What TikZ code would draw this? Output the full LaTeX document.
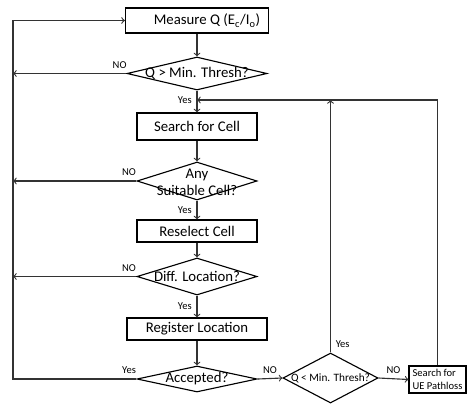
\documentclass[tikz,border=0pt]{standalone}
\usepackage{fontspec}
\setmainfont{Carlito}
\usetikzlibrary{shapes.geometric}
\begin{document}
\begin{tikzpicture}[
  x=0.025cm, y=-0.025cm,
  stepbox/.style={rectangle, draw, thick, inner sep=1pt, font=\fontsize{10.5}{12}\selectfont, align=center},
  decision/.style={diamond, draw, thick, inner sep=0pt},
  txt/.style={font=\fontsize{10.5}{12}\selectfont, align=center},
  lbl/.style={font=\fontsize{7.5}{8}\selectfont},
  arrow/.style={->, thick, draw=black!80}
]
\useasboundingbox (0,0) rectangle (468,403);

% main column
\node[stepbox, minimum width=3.575cm, minimum height=0.625cm] (measure) at (197,20.5) {\hspace{0.5cm}Measure Q (E\textsubscript{c}/I\textsubscript{o})};
\node[decision, minimum width=3.5cm, minimum height=0.825cm, label={[txt]center:Q > Min. Thresh?}] (qgt) at (197,73.5) {};
\node[stepbox, minimum width=3cm, minimum height=0.675cm] (search) at (197,126.5) {Search for Cell};
\node[decision, minimum width=3cm, minimum height=0.95cm, label={[txt, yshift=-1pt]center:Any\\Suitable Cell?}] (suit) at (197,181) {};
\node[stepbox, minimum width=3cm, minimum height=0.55cm] (reselect) at (197,231) {Reselect Cell};
\node[decision, minimum width=3cm, minimum height=0.925cm, label={[txt]center:Diff. Location?}] (diff) at (197,276.5) {};
\node[stepbox, minimum width=3.5cm, minimum height=0.55cm] (register) at (197,329) {Register Location};
\node[decision, minimum width=3cm, minimum height=0.65cm, label={[txt]center:Accepted?}] (acc) at (197,379) {};

% right branch
\node[decision, minimum width=2.375cm, minimum height=1.25cm, label={[font=\fontsize{8}{9}\selectfont]center:Q < Min. Thresh?}] (qlt) at (330.5,378) {};
\node[stepbox, minimum width=1.425cm, minimum height=0.675cm, font=\fontsize{7.5}{9}\selectfont, align=left] (ue) at (437.5,379.5) {Search for\\UE Pathloss};

% helper points
\coordinate (rail) at (13,0);
\coordinate (top) at (330.5,100);

% Arrows
\draw[arrow] (measure) -- (qgt);
\draw[arrow] (qgt) -- node[lbl, left, pos=0.45] {Yes} (search);
\draw[arrow] (search) -- (suit);
\draw[arrow] (suit) -- node[lbl, left] {Yes} (reselect);
\draw[arrow] (reselect) -- (diff);
\draw[arrow] (diff) -- node[lbl, left] {Yes} (register);
\draw[arrow] (register) -- (acc);

% NO branches to the left rail
\draw[arrow] (qgt.west) -- node[lbl, above, pos=0.06] {NO} (qgt.west -| rail);
\draw[arrow] (suit.west) -- node[lbl, above, pos=0.06] {NO} (suit.west -| rail);
\draw[arrow] (diff.west) -- node[lbl, above, pos=0.06] {NO} (diff.west -| rail);
\draw[arrow] (acc.west) -- node[lbl, above, pos=0.06] {Yes} (acc.west -| rail) -- (measure.west -| rail) -- (measure.west);

% right side
\draw[arrow] (acc.east) -- node[lbl, above] {NO} (qlt.west);
\draw[arrow] (qlt.east) -- node[lbl, above] {NO} (ue.west);
\draw[arrow] (qlt.north) -- node[lbl, above right, pos=0.0] {Yes} (top);
\draw[arrow] (ue.north) |- (qgt.south |- top);

\end{tikzpicture}
\end{document}
